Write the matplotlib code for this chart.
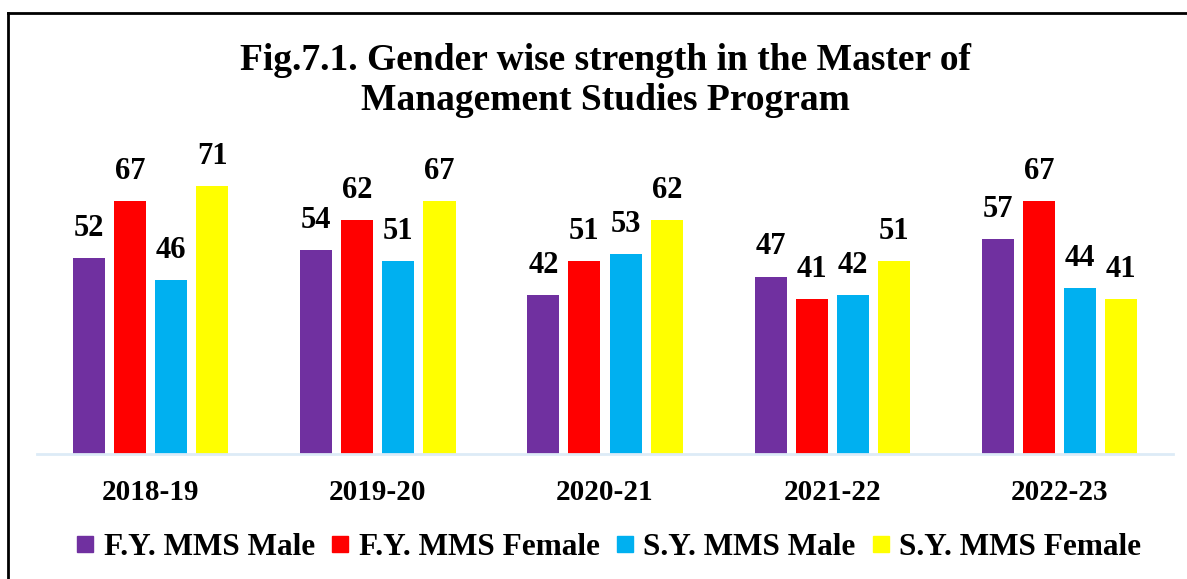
import matplotlib
matplotlib.use("Agg")
import matplotlib.pyplot as plt
from matplotlib.lines import Line2D
import numpy as np

years = ["2018-19", "2019-20", "2020-21", "2021-22", "2022-23"]
fy_male = [52, 54, 42, 47, 57]
fy_female = [67, 62, 51, 41, 67]
sy_male = [46, 51, 53, 42, 44]
sy_female = [71, 67, 62, 51, 41]

series_names = ["F.Y. MMS Male", "F.Y. MMS Female", "S.Y. MMS Male", "S.Y. MMS Female"]
series_colors = ["#7030A0", "#FF0000", "#00B0F0", "#FFFF00"]

plt.rcParams['font.family'] = ['Liberation Serif', 'DejaVu Serif']
plt.rcParams['font.weight'] = 'bold'

fig = plt.figure(figsize=(11.87, 5.79), dpi=100)
ax = fig.add_axes([0.0312, 0.2159, 0.957, 0.5216])

x = np.arange(len(years))
width = 0.141
pitch = 0.181
all_series = [fy_male, fy_female, sy_male, sy_female]
for i, (vals, name, col) in enumerate(zip(all_series, series_names, series_colors)):
    offs = (i - 1.5) * pitch
    bars = ax.bar(x + offs, vals, width, color=col, label=name)
    for b, v in zip(bars, vals):
        ax.text(b.get_x() + b.get_width() / 2, v + 4, str(v),
                ha='center', va='bottom', fontsize=22, fontweight='bold')

ax.set_xlim(-0.5, len(years) - 0.5)
ax.set_ylim(0, 80)
ax.set_yticks([])
ax.set_xticks(x)
ax.set_xticklabels(years, fontsize=21, fontweight='bold')
ax.tick_params(axis='x', length=0, pad=18)
for s in ['top', 'right', 'left']:
    ax.spines[s].set_visible(False)
ax.spines['bottom'].set_color('#DDEBF7')
ax.spines['bottom'].set_linewidth(2)

fig.text(0.51, 0.861, "Fig.7.1. Gender wise strength in the Master of\nManagement Studies Program",
         ha='center', va='center', fontsize=27, fontweight='bold', linespacing=1.22)

handles = [Line2D([0], [0], marker='s', linestyle='none', markersize=11,
                  markerfacecolor=c, markeredgecolor=c) for c in series_colors]
fig.legend(handles, series_names, loc='center', bbox_to_anchor=(0.51, 0.055), ncol=4,
           frameon=False, handletextpad=0.1, columnspacing=0.3,
           handlelength=1.0, prop={'weight': 'bold', 'size': 22.5})

# frame lines on the left and top
fig.add_artist(Line2D([8 / 1187, 8 / 1187], [0, 1 - 13 / 579], color='black', lw=2))
fig.add_artist(Line2D([8 / 1187, 1], [1 - 13 / 579, 1 - 13 / 579], color='black', lw=2))

fig.savefig("out.png", dpi=100)
